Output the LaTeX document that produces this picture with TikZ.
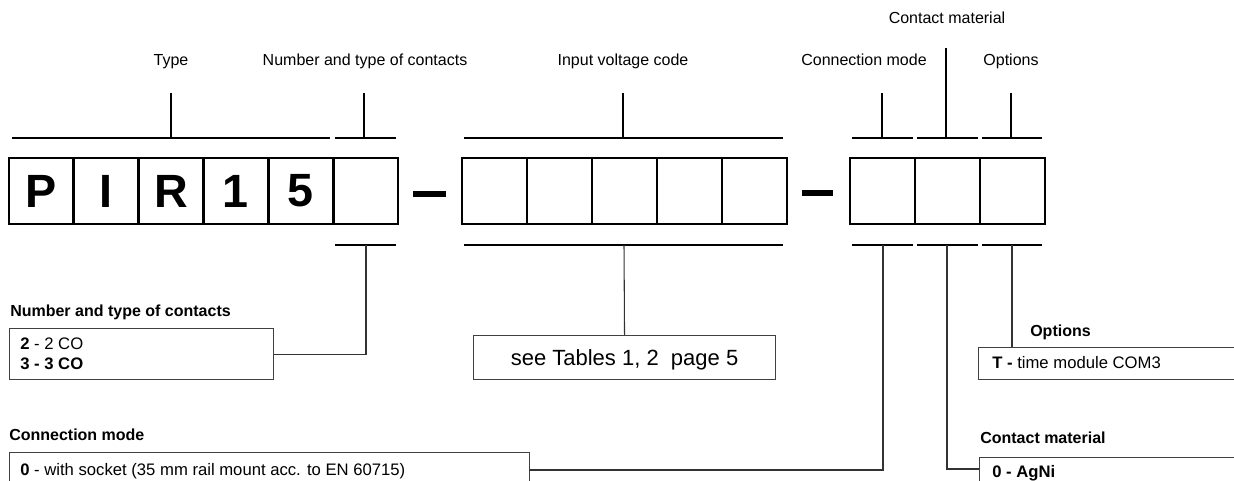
\documentclass[tikz,border=0pt]{standalone}
\usepackage{fontspec}
\setmainfont{Liberation Sans}
\begin{document}
\begin{tikzpicture}[x=0.75pt,y=-0.75pt,
  cell/.style={draw=black,line width=2pt,minimum width=48.6pt,minimum height=49.5pt,inner sep=0pt,font=\fontsize{35}{40}\selectfont\bfseries},
  brk/.style={line width=1.5pt,black},
  stem/.style={line width=1.1pt,black},
  conn/.style={line width=0.8pt,black!80},
  infobox/.style={draw=black!75,line width=0.8pt,inner sep=0pt,anchor=north west},
  toplabel/.style={font=\fontsize{12}{14}\selectfont,inner sep=0pt,text height=8.6pt,text depth=0pt},
  botlabel/.style={font=\fontsize{12}{14}\selectfont\bfseries,inner sep=0pt,anchor=west,text height=8.6pt,text depth=0pt},
  boxtext/.style={font=\fontsize{12.5}{15}\selectfont,inner sep=0pt,anchor=west,text height=8.95pt,text depth=0pt},
  bar/.style={line width=3.8pt,black}]
\useasboundingbox (0,0) rectangle (1234,481);
\clip (0,0) rectangle (1234,481);
% code cells
\node[cell] (c1) at (41.4,191) {P};
\node[cell] (c2) at (106.2,191) {I};
\node[cell] (c3) at (171.1,191) {R};
\node[cell] (c4) at (235.9,191) {1};
\node[cell] (c5) at (300.7,191) {5};
\node[cell] (c6) at (365.6,191) {};
\node[cell] (v1) at (494.5,191) {};
\node[cell] (v2) at (559.5,191) {};
\node[cell] (v3) at (624.5,191) {};
\node[cell] (v4) at (689.5,191) {};
\node[cell] (v5) at (754.5,191) {};
\node[cell] (m1) at (882.5,191) {};
\node[cell] (m2) at (947.5,191) {};
\node[cell] (m3) at (1012.5,191) {};
% dashes
\draw[bar] (413,194) -- (446,194);
\draw[bar] (802,193) -- (833,193);
% top labels
\node[toplabel] (lType) at (171,60) {Type};
\node[toplabel] (lNum) at (365,60) {Number and type of contacts};
\node[toplabel] (lVolt) at (623,60) {Input voltage code};
\node[toplabel] (lConn) at (864,60) {Connection mode};
\node[toplabel] (lOpt) at (1011,60) {Options};
\node[toplabel] (lMat) at (947,18) {Contact material};
% top brackets
\draw[brk] (12,138) -- (330,138);
\draw[brk] (335,138) -- (396,138);
\draw[brk] (464,138) -- (783,138);
\draw[brk] (852,138) -- (913,138);
\draw[brk] (917,138) -- (978,138);
\draw[brk] (982,138) -- (1042,138);
\coordinate (t1) at (171,138); \coordinate (t1u) at (171,93);
\coordinate (t2) at (364,138); \coordinate (t2u) at (364,93);
\coordinate (t3) at (623,138); \coordinate (t3u) at (623,93);
\coordinate (t4) at (882,138); \coordinate (t4u) at (882,93);
\coordinate (t5) at (946,138); \coordinate (t5u) at (946,48);
\coordinate (t6) at (1011,138); \coordinate (t6u) at (1011,93);
\draw[stem] (t1u) -- (t1);
\draw[stem] (t2u) -- (t2);
\draw[stem] (t3u) -- (t3);
\draw[stem] (t4u) -- (t4);
\draw[stem] (t5u) -- (t5);
\draw[stem] (t6u) -- (t6);
% bottom brackets
\draw[brk] (335,245) -- (396,245);
\draw[brk] (464,245) -- (783,245);
\draw[brk] (852,245) -- (913,245);
\draw[brk] (917,245) -- (978,245);
\draw[brk] (982,245) -- (1042,245);
\coordinate (b1) at (366,245);
\coordinate (b2) at (624,245);
\coordinate (b3) at (883,245);
\coordinate (b4) at (947,245);
\coordinate (b5) at (1012,245);
% info boxes
\node[infobox,minimum width=198pt,minimum height=38.25pt] (boxNum) at (9,328) {};
\node[botlabel] (hNum) at (10,311) {Number and type of contacts};
\node[boxtext] (tNum1) at (20,344) {\textbf{2} - 2 CO};
\node[boxtext] (tNum2) at (20,364) {\textbf{3 - 3 CO}};
\draw[conn] (boxNum.east) -| (b1);

\node[infobox,minimum width=226.5pt,minimum height=33pt] (boxVolt) at (473,335) {};
\node[font=\fontsize{16.5}{19}\selectfont,inner sep=0pt,text height=11.8pt,text depth=0pt] (tVolt) at (boxVolt.center) {see Tables 1, 2\ \ page 5};
\draw[conn] (b2) -- (boxVolt.north);

\node[botlabel] (hConn) at (9,435) {Connection mode};
\node[infobox,minimum width=390pt,minimum height=40pt] (boxConn) at (9,452) {};
\node[boxtext] (tConn) at (20,470) {\textbf{0} - with socket (35 mm rail mount acc. to EN 60715)};
\coordinate (boxConnE) at (529,470);
\draw[conn] (boxConnE) -| (b3);

\node[botlabel] (hOpt) at (1030,331) {Options};
\node[infobox,minimum width=210pt,minimum height=24pt] (boxOpt) at (978,347) {};
\node[boxtext] (tOpt) at (992,363) {\textbf{T -} time module COM3};
\coordinate (boxOptN) at (1012,347);
\draw[conn] (b5) -- (boxOptN);

\node[botlabel] (hMat) at (980,438) {Contact material};
\node[infobox,minimum width=210pt,minimum height=40pt] (boxMat) at (979,457) {};
\node[boxtext] (tMat) at (992,472) {\textbf{0 - AgNi}};
\coordinate (boxMatW) at (979,469);
\draw[conn] (b4) |- (boxMatW);
\end{tikzpicture}
\end{document}
